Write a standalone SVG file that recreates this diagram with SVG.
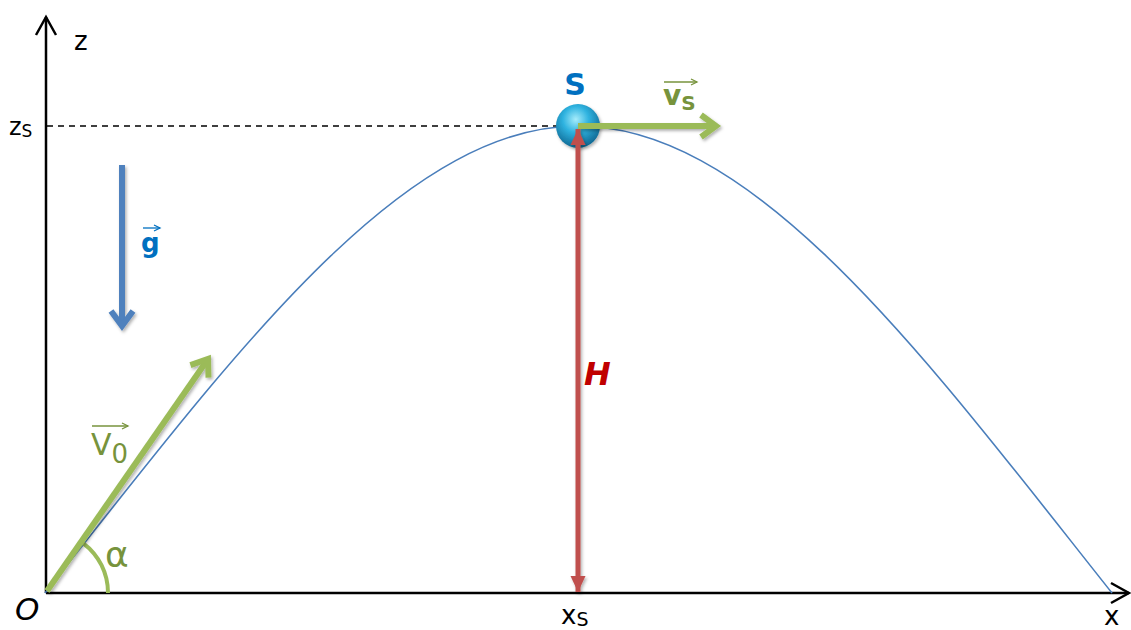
<svg xmlns="http://www.w3.org/2000/svg" width="1131" height="630" viewBox="0 0 1131 630">
<style>
text{font-family:"DejaVu Sans","Liberation Sans",sans-serif}
.axis{stroke:#000;stroke-width:2.5;fill:none}
.dash{stroke:#000;stroke-width:1.6;stroke-dasharray:6 5;fill:none}
.traj{stroke:#4a7ebb;stroke-width:1.6;fill:none}
.green{stroke:#9bbb59;stroke-width:6;fill:none}
.blue{stroke:#4f81bd;stroke-width:6;fill:none}
.red{stroke:#c0504d;stroke-width:5;fill:none}
.arc{stroke:#9bbb59;stroke-width:4;fill:none}
.lblk{fill:#000;font-size:26px}
.lgreen{fill:#77933c;font-weight:bold}
.vec{stroke:#77933c;stroke-width:1.3;fill:none}
.vecb{stroke:#0070c0;stroke-width:1.3;fill:none}
</style>
<defs>
<marker id="axhead" markerUnits="userSpaceOnUse" viewBox="0 0 24 24" markerWidth="24" markerHeight="24" refX="20" refY="12" orient="auto">
<path d="M2,2 L20,12 L2,22" fill="none" stroke="#000" stroke-width="2.5"/>
</marker>
<marker id="ghead" markerUnits="userSpaceOnUse" viewBox="0 0 30 30" markerWidth="30" markerHeight="30" refX="20" refY="15" orient="auto">
<path d="M5,4 L20,15 L5,26" fill="none" stroke="#9bbb59" stroke-width="6"/>
</marker>
<marker id="bhead" markerUnits="userSpaceOnUse" viewBox="0 0 30 30" markerWidth="30" markerHeight="30" refX="20" refY="15" orient="auto">
<path d="M5,4 L20,15 L5,26" fill="none" stroke="#4f81bd" stroke-width="6"/>
</marker>
<marker id="rhead" markerUnits="userSpaceOnUse" viewBox="0 0 20 20" markerWidth="20" markerHeight="20" refX="16" refY="10" orient="auto-start-reverse">
<path d="M0,2.5 L16,10 L0,17.5 Z" fill="#c0504d"/>
</marker>
<marker id="vgh" markerUnits="userSpaceOnUse" viewBox="0 0 10 10" markerWidth="10" markerHeight="10" refX="8" refY="5" orient="auto">
<path d="M2,2 L8,5 L2,8" fill="none" stroke="#77933c" stroke-width="1.3"/>
</marker>
<marker id="vbh" markerUnits="userSpaceOnUse" viewBox="0 0 10 10" markerWidth="10" markerHeight="10" refX="8" refY="5" orient="auto">
<path d="M2,2 L8,5 L2,8" fill="none" stroke="#0070c0" stroke-width="1.3"/>
</marker>
<filter id="sh" filterUnits="userSpaceOnUse" x="0" y="0" width="1131" height="630">
<feDropShadow dx="1.5" dy="2" stdDeviation="1.5" flood-color="#000" flood-opacity="0.3"/>
</filter>
<radialGradient id="ballg" cx="0.45" cy="0.35" r="0.65">
<stop offset="0" stop-color="#a6ecfb"/>
<stop offset="0.45" stop-color="#2fb3e0"/>
<stop offset="1" stop-color="#0f6893"/>
</radialGradient>
</defs>

<g id="axes">
<line class="axis" x1="46" y1="593" x2="46" y2="17" marker-end="url(#axhead)"/>
<line class="axis" x1="46" y1="593" x2="1129" y2="593" marker-end="url(#axhead)"/>
<line class="dash" x1="47" y1="126" x2="560" y2="126"/>
</g>

<g id="trajectory">
<path class="traj" d="M45,593 C230,360 400,126 578,126 C757,126 927,360 1112,593"/>
</g>

<g id="angle">
<path class="arc" d="M83.3,543.3 A62,62 0 0 1 108,593"/>
</g>

<g id="ball-S" filter="url(#sh)">
<circle cx="578" cy="126" r="22" fill="url(#ballg)"/>
</g>

<g id="connectors" filter="url(#sh)">
<line class="green" x1="47" y1="591" x2="208" y2="359" marker-end="url(#ghead)"/>
<line class="green" x1="578" y1="126" x2="716" y2="126" marker-end="url(#ghead)"/>
<line class="blue" x1="122" y1="165" x2="122" y2="326" marker-end="url(#bhead)"/>
<line class="red" x1="578" y1="129" x2="578" y2="592" marker-start="url(#rhead)" marker-end="url(#rhead)"/>
</g>

<g id="labels">
<text class="lblk" x="74" y="50">z</text>
<text x="9" y="135" style="font-size:24px;fill:#000">z<tspan dy="2" style="font-size:17px">S</tspan></text>
<text x="575" y="95" text-anchor="middle" style="font-size:30px;font-weight:bold;fill:#0070c0">S</text>
<line class="vec" x1="664" y1="82" x2="697" y2="82" marker-end="url(#vgh)"/>
<text class="lgreen" x="663" y="105" style="font-size:28px">v<tspan dy="5" style="font-size:20px">S</tspan></text>
<line class="vec" x1="92" y1="426" x2="128" y2="426" marker-end="url(#vgh)"/>
<text class="lgreen" x="91" y="455" style="font-size:30px;font-weight:normal">V<tspan dy="8" style="font-size:26px">0</tspan></text>
<line class="vecb" x1="143" y1="228" x2="160" y2="228" marker-end="url(#vbh)"/>
<text x="141" y="252" style="font-size:26px;font-weight:bold;fill:#0070c0">g</text>
<text x="584" y="385" style="font-size:32px;font-weight:bold;font-style:italic;fill:#c00000">H</text>
<text x="105" y="567" style="font-size:36px;fill:#77933c">α</text>
<text x="15" y="620" style="font-size:31px;font-style:italic;fill:#000">O</text>
<text x="561" y="624" style="font-size:26px;fill:#000">x<tspan dy="2" style="font-size:19px">S</tspan></text>
<text x="1104" y="625" style="font-size:26px;fill:#000">x</text>
</g>
</svg>
